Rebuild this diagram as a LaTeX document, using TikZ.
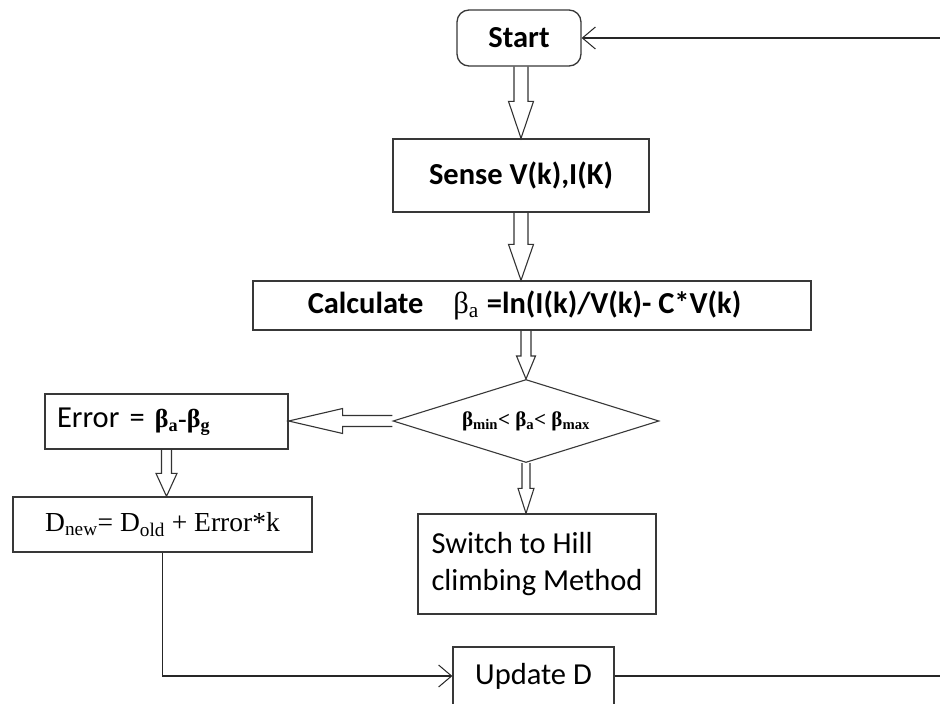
\documentclass[tikz,border=0pt]{standalone}
\usepackage{fontspec}
\setmainfont{Carlito}
\newfontfamily\tnr{Liberation Serif}
\usetikzlibrary{arrows.meta,calc,shapes.geometric}

\tikzset{
  box/.style={draw=black!78, line width=1.3pt, rectangle, inner sep=0pt,
    align=center, font=\fontsize{30.5}{37}\selectfont},
  startbox/.style={box, rounded corners=12pt},
  decision/.style={draw=black!78, line width=1.1pt, diamond, aspect=3.2,
    inner sep=0pt, minimum width=266pt, minimum height=83pt,
    font=\tnr\bfseries\fontsize{21}{25}\selectfont},
  blockarrow/.style={draw=black!80, line width=1.1pt, line join=miter},
  link/.style={draw=black!85, line width=1.3pt,
    -{Straight Barb[length=13pt,width=22pt,line width=1pt]}}
}

% hollow block arrow pointing down from #1 to #2:
% shaft half width #3, head half width #4, head length #5
\newcommand\blockdown[5]{%
  \draw[blockarrow] let \p1=#1, \p2=#2 in
    (\x1-#3,\y1) -- (\x1-#3,\y2+#5) -- (\x1-#4,\y2+#5) -- (\x1,\y2)
    -- (\x1+#4,\y2+#5) -- (\x1+#3,\y2+#5) -- (\x1+#3,\y1);}
% hollow block arrow pointing left from #1 to #2
\newcommand\blockleft[5]{%
  \draw[blockarrow] let \p1=#1, \p2=#2 in
    (\x1,\y1+#3) -- (\x2+#5,\y1+#3) -- (\x2+#5,\y1+#4) -- (\x2,\y1)
    -- (\x2+#5,\y1-#4) -- (\x2+#5,\y1-#3) -- (\x1,\y1-#3);}

\begin{document}
\begin{tikzpicture}[x=1pt,y=-1pt]
  \useasboundingbox (0,0) rectangle (940,704);
  \fill[white] (0,0) rectangle (940,704);
  \clip (0,0) rectangle (940,704);

  % process steps
  \node[startbox, minimum width=124pt, minimum height=56pt] (start) at (519,38)
    {\bfseries Start};
  \node[box, minimum width=256pt, minimum height=73pt] (sense) at (521,175.5)
    {\bfseries Sense V(k),I(K)};
  \node[box, minimum width=558pt, minimum height=49pt] (calc) at (532,305.5)
    {\bfseries Calculate\hspace{30pt}{\tnr\mdseries β\textsubscript{a}}\hspace{8pt}=ln(I(k)/V(k)- C*V(k)\hspace{15pt}};
  \node[decision] (dia) at (526,421)
    {β\textsubscript{min}< β\textsubscript{a}< β\textsubscript{max}};
  \node[box, minimum width=243pt, minimum height=55pt, text width=219pt,
        align=left, inner xsep=12pt] (err) at (166.5,421.5)
    {Error = {\tnr\bfseries\fontsize{26}{30}\selectfont β\textsubscript{a}-β\textsubscript{g}}};
  \node[box, minimum width=299pt, minimum height=55pt,
        font=\tnr\fontsize{27.5}{33}\selectfont] (dnew) at (162.5,524.5)
    {D\textsubscript{new}= D\textsubscript{old} + Error*k};
  \node[box, minimum width=238pt, minimum height=100pt, align=left] (sw) at (537,564)
    {Switch to Hill\\climbing Method};
  \node[box, minimum width=161pt, minimum height=58pt] (upd) at (533.5,676)
    {Update D};

  % block arrows between the steps
  \blockdown{(sense.north |- start.south)}{(sense.north)}{7pt}{12.5pt}{37pt}
  \blockdown{(sense.south)}{(sense.south |- calc.north)}{7pt}{12.5pt}{36pt}
  \blockdown{(calc.south -| dia.north)}{(dia.north)}{5pt}{9.5pt}{23pt}
  \blockdown{(dia.south)}{(dia.south |- sw.north)}{4pt}{8pt}{25pt}
  \blockdown{(err.south)}{(err.south |- dnew.north)}{5pt}{10.5pt}{23pt}
  \blockleft{(dia.west)}{(err.east)}{5.5pt}{12.5pt}{54pt}

  % line connectors
  \draw[link] (dnew.south) |- (upd.west);
  \draw[link] (upd.east) -- (960,676) |- (start.east);
\end{tikzpicture}
\end{document}
